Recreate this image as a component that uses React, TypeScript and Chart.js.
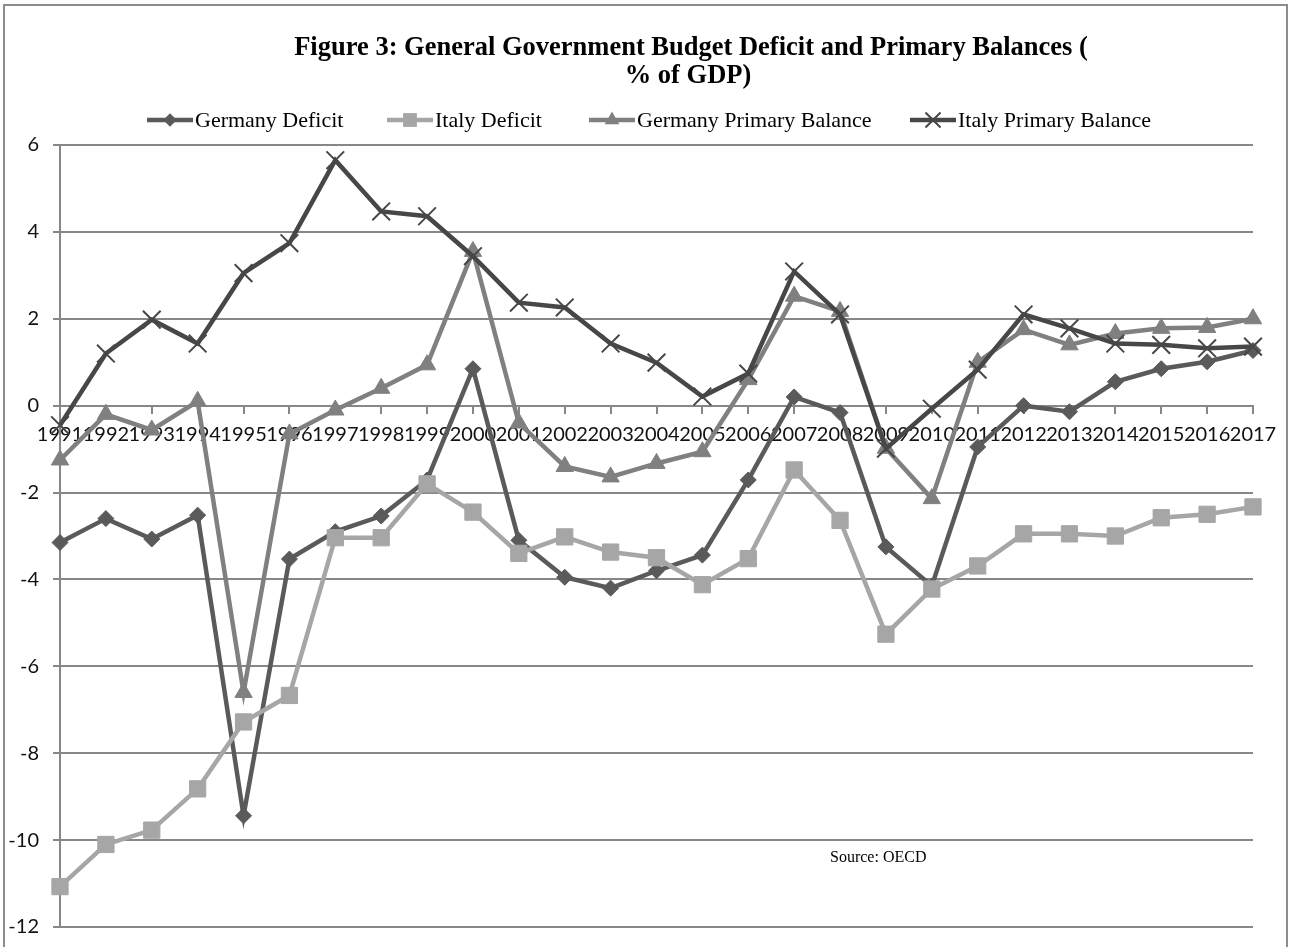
import React, { useEffect, useRef } from "react";
import { Chart, registerables } from "chart.js";

Chart.register(...registerables);

const years = [
  "1991", "1992", "1993", "1994", "1995", "1996", "1997", "1998", "1999",
  "2000", "2001", "2002", "2003", "2004", "2005", "2006", "2007", "2008",
  "2009", "2010", "2011", "2012", "2013", "2014", "2015", "2016", "2017",
];

const germanyDeficit = [
  -3.15, -2.6, -3.07, -2.52, -9.44, -3.53, -2.9, -2.54, -1.71,
  0.85, -3.1, -3.95, -4.2, -3.8, -3.44, -1.71, 0.2, -0.16,
  -3.25, -4.15, -0.95, 0.0, -0.14, 0.55, 0.85, 1.01, 1.27,
];

const italyDeficit = [
  -11.07, -10.1, -9.77, -8.82, -7.28, -6.67, -3.04, -3.04, -1.8,
  -2.45, -3.4, -3.02, -3.37, -3.5, -4.12, -3.52, -1.48, -2.64,
  -5.26, -4.22, -3.69, -2.95, -2.95, -3.0, -2.58, -2.5, -2.33,
];

const germanyPrimary = [
  -1.25, -0.2, -0.56, 0.1, -6.6, -0.65, -0.1, 0.4, 0.94,
  3.55, -0.4, -1.4, -1.64, -1.33, -1.06, 0.6, 2.52, 2.17,
  -0.98, -2.14, 1.0, 1.75, 1.4, 1.66, 1.78, 1.8, 2.0,
];

const italyPrimary = [
  -0.45, 1.2, 1.98, 1.43, 3.05, 3.74, 5.65, 4.47, 4.36,
  3.44, 2.37, 2.26, 1.43, 0.99, 0.21, 0.74, 3.09, 2.1,
  -0.99, -0.07, 0.83, 2.1, 1.78, 1.43, 1.4, 1.32, 1.36,
];

const seriesNames = [
  "Germany Deficit",
  "Italy Deficit",
  "Germany Primary Balance",
  "Italy Primary Balance",
];

const titleLines = [
  "Figure 3: General Government Budget Deficit and Primary Balances (",
  "% of GDP)",
];
const sourceNote = "Source: OECD";

const yMin = -12;
const yMax = 6;
const yStep = 2;

const GRID = "#878787";
const SERIF = '"Liberation Serif", "Times New Roman", serif';
const SANS = 'Lato, "Open Sans", sans-serif';

function drawMarker(ctx: CanvasRenderingContext2D, style: string, x: number, y: number, r: number, color: string, lw: number) {
  ctx.save();
  ctx.fillStyle = color;
  ctx.strokeStyle = color;
  ctx.beginPath();
  if (style === "rectRot") {
    ctx.moveTo(x - r, y);
    ctx.lineTo(x, y - r);
    ctx.lineTo(x + r, y);
    ctx.lineTo(x, y + r);
    ctx.closePath();
    ctx.fill();
  } else if (style === "rect") {
    const s = r * Math.SQRT1_2;
    ctx.rect(x - s, y - s, 2 * s, 2 * s);
    ctx.fill();
  } else if (style === "triangle") {
    ctx.moveTo(x, y - r);
    ctx.lineTo(x + r * 0.866, y + r / 2);
    ctx.lineTo(x - r * 0.866, y + r / 2);
    ctx.closePath();
    ctx.fill();
  } else if (style === "crossRot") {
    const o = r * Math.SQRT1_2;
    ctx.moveTo(x - o, y - o);
    ctx.lineTo(x + o, y + o);
    ctx.moveTo(x + o, y - o);
    ctx.lineTo(x - o, y + o);
    ctx.lineWidth = lw;
    ctx.stroke();
  }
  ctx.restore();
}

const legendStarts = [147, 387, 589, 910];

const decorPlugin = {
  id: "decor",
  beforeDraw(chart: any) {
    const ctx = chart.ctx as CanvasRenderingContext2D;
    ctx.save();
    ctx.fillStyle = "#ffffff";
    ctx.fillRect(0, 0, chart.width, chart.height);
    ctx.restore();
  },
  afterDraw(chart: any) {
    const ctx = chart.ctx as CanvasRenderingContext2D;
    ctx.save();
    // frame
    ctx.strokeStyle = "#8c8c8c";
    ctx.lineWidth = 2;
    ctx.strokeRect(4, 5, 1283, 960);

    // title
    ctx.fillStyle = "#000";
    ctx.font = "bold 26.5px " + SERIF;
    ctx.textAlign = "center";
    ctx.textBaseline = "middle";
    ctx.fillText(titleLines[0], 691, 48);
    ctx.fillText(titleLines[1], 688, 76);

    // legend
    ctx.font = "22px " + SERIF;
    ctx.textAlign = "left";
    const ly = 120;
    chart.data.datasets.forEach((ds: any, i: number) => {
      const x0 = legendStarts[i];
      const len = 46;
      ctx.save();
      ctx.strokeStyle = ds.borderColor;
      ctx.lineWidth = ds.borderWidth;
      ctx.beginPath();
      ctx.moveTo(x0, ly);
      ctx.lineTo(x0 + len, ly);
      ctx.stroke();
      ctx.restore();
      drawMarker(ctx, ds.pointStyle, x0 + len / 2, ly, ds.pointRadius * 0.85, ds.borderColor, ds.pointBorderWidth);
      ctx.fillStyle = "#000";
      ctx.fillText(ds.label, x0 + len + 2, ly + 1);
    });

    // source
    ctx.font = "16px " + SERIF;
    ctx.textAlign = "left";
    ctx.fillText(sourceNote, 830, 858);
    ctx.restore();
  },
};

export default function App() {
  const canvasRef = useRef<HTMLCanvasElement | null>(null);

  useEffect(() => {
    if (!canvasRef.current) return;
    const chart = new Chart(canvasRef.current, {
      type: "line",
      data: {
        labels: years,
        datasets: [
          {
            label: seriesNames[0],
            data: germanyDeficit,
            borderColor: "#5a5a5a",
            backgroundColor: "#5a5a5a",
            borderWidth: 4.5,
            pointStyle: "rectRot",
            pointRadius: 8,
            pointBorderWidth: 1,
            pointBackgroundColor: "#5a5a5a",
            pointBorderColor: "#5a5a5a",
            tension: 0,
            order: 3,
          },
          {
            label: seriesNames[1],
            data: italyDeficit,
            borderColor: "#a6a6a6",
            backgroundColor: "#a6a6a6",
            borderWidth: 4.5,
            pointStyle: "rect",
            pointRadius: 11.5,
            pointBorderWidth: 1,
            pointBackgroundColor: "#a6a6a6",
            pointBorderColor: "#a6a6a6",
            tension: 0,
            order: 2,
          },
          {
            label: seriesNames[2],
            data: germanyPrimary,
            borderColor: "#808080",
            backgroundColor: "#808080",
            borderWidth: 4.5,
            pointStyle: "triangle",
            pointRadius: 10,
            pointBorderWidth: 1,
            pointBackgroundColor: "#808080",
            pointBorderColor: "#808080",
            tension: 0,
            order: 1,
          },
          {
            label: seriesNames[3],
            data: italyPrimary,
            borderColor: "#474747",
            backgroundColor: "#474747",
            borderWidth: 4.5,
            pointStyle: "crossRot",
            pointRadius: 12.5,
            pointBorderWidth: 2,
            pointBackgroundColor: "#474747",
            pointBorderColor: "#474747",
            tension: 0,
            order: 0,
          },
        ],
      },
      options: {
        animation: false,
        responsive: false,
        events: [],
        layout: { padding: { top: 145, right: 39, bottom: 16, left: 0 } },
        plugins: {
          legend: { display: false },
          title: { display: false },
          tooltip: { enabled: false },
        },
        scales: {
          x: {
            type: "category",
            position: { y: 0 } as any,
            offset: false,
            grid: {
              drawOnChartArea: false,
              drawTicks: true,
              tickLength: 7,
              color: GRID,
              lineWidth: 2,
            },
            border: { display: true, color: GRID, width: 2 },
            ticks: {
              autoSkip: false,
              maxRotation: 0,
              minRotation: 0,
              padding: 10,
              color: "#111",
              font: { family: SANS, size: 20 },
            },
          },
          y: {
            min: yMin,
            max: yMax,
            ticks: {
              stepSize: yStep,
              padding: 14,
              color: "#111",
              font: { family: SANS, size: 20 },
            },
            grid: { color: GRID, lineWidth: 2, tickLength: 7 },
            border: { display: true, color: GRID, width: 2 },
            afterFit: (scale: any) => {
              scale.width = 60;
            },
          },
        },
      },
      plugins: [decorPlugin],
    });
    return () => chart.destroy();
  }, []);

  return (
    <div style={{ position: "absolute", left: 0, top: 0, width: 1292, height: 947, overflow: "hidden", background: "#fff" }}>
      <canvas ref={canvasRef} width={1292} height={953} style={{ display: "block" }} />
    </div>
  );
}
